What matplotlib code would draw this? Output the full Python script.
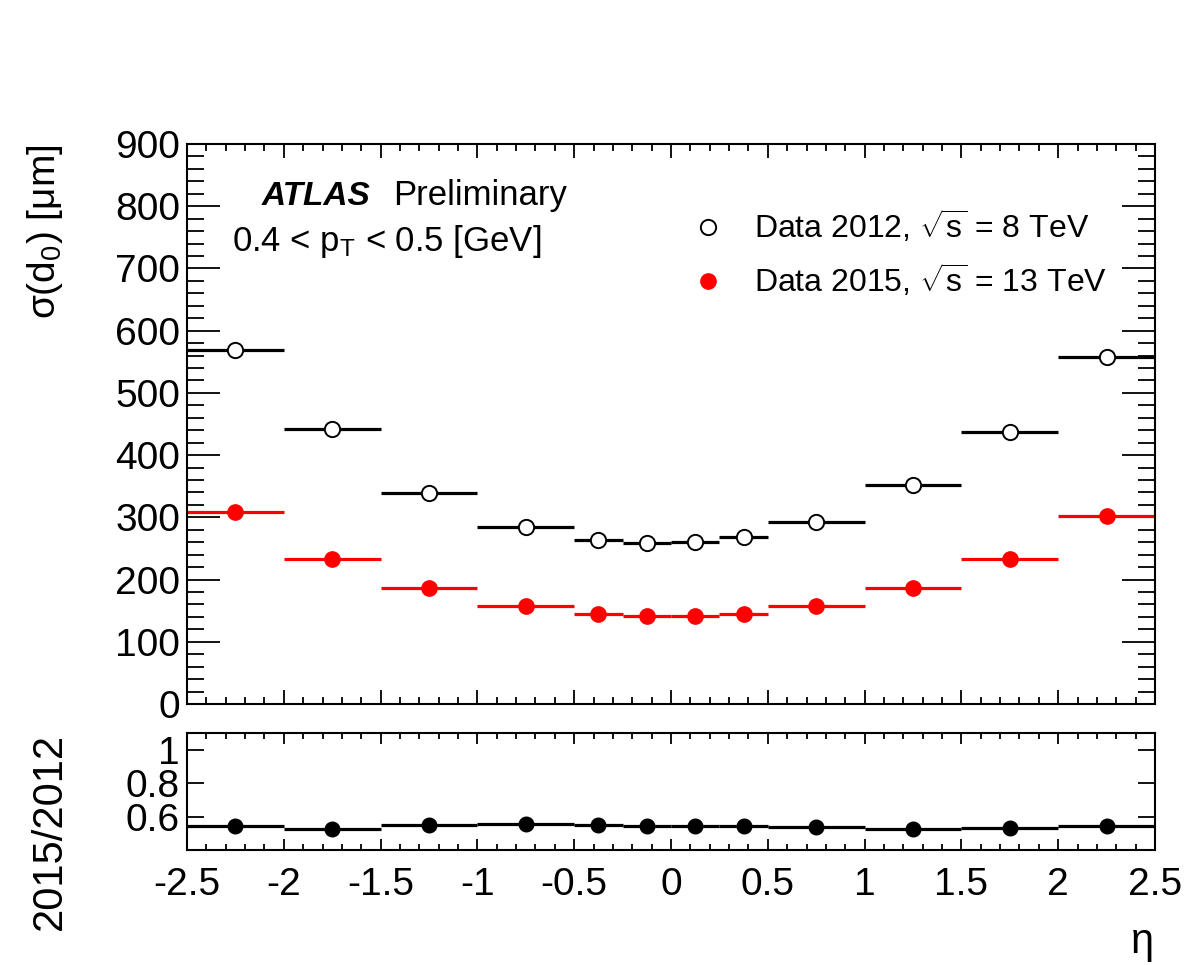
import matplotlib
matplotlib.use("Agg")
import matplotlib.pyplot as plt
import numpy as np
from matplotlib.lines import Line2D
from matplotlib.ticker import MultipleLocator

# font setup (Helvetica-like)
plt.rcParams['font.family'] = ['Liberation Sans', 'DejaVu Sans']
plt.rcParams['mathtext.fontset'] = 'custom'
plt.rcParams['mathtext.rm'] = 'Liberation Sans'
plt.rcParams['mathtext.it'] = 'Liberation Sans:italic'
plt.rcParams['mathtext.bf'] = 'Liberation Sans:bold'

# eta binning
eta_edges = [-2.5, -2.0, -1.5, -1.0, -0.5, -0.25, 0.0, 0.25, 0.5, 1.0, 1.5, 2.0, 2.5]

# d0 resolution [um]
res_2012 = [569, 442, 339, 284, 264, 259, 260, 268, 292, 352, 437, 558]
res_2015 = [309, 233, 186, 157, 145, 141, 141, 145, 157, 186, 233, 302]

edges = np.array(eta_edges)
lo = edges[:-1]
hi = edges[1:]
centers = 0.5 * (lo + hi)
r12 = np.array(res_2012, dtype=float)
r15 = np.array(res_2015, dtype=float)
ratio = r15 / r12

W, H = 1184, 965
fig = plt.figure(figsize=(W / 100, H / 100), dpi=100)

def px(x, y):
    return x / W, 1 - y / H

ax = fig.add_axes([187 / W, 1 - 704 / H, (1155 - 187) / W, (704 - 144) / H])
axr = fig.add_axes([187 / W, 1 - 850 / H, (1155 - 187) / W, (850 - 733) / H])

# upper panel: resolution per bin
ax.hlines(r12, lo, hi, colors='black', lw=2.3, zorder=2)
ax.plot(centers, r12, 'o', ms=11, mfc='white', mec='black', mew=1.4, zorder=3)
ax.hlines(r15, lo, hi, colors='red', lw=2.3, zorder=2)
ax.plot(centers, r15, 'o', ms=11, mfc='red', mec='red', zorder=3)

ax.set_xlim(-2.5, 2.5)
ax.set_ylim(0, 900)
ax.xaxis.set_major_locator(MultipleLocator(0.5))
ax.xaxis.set_minor_locator(MultipleLocator(0.1))
ax.yaxis.set_major_locator(MultipleLocator(100))
ax.yaxis.set_minor_locator(MultipleLocator(20))
ax.tick_params(which='both', direction='in', top=True, right=True, width=1.3)
ax.tick_params(axis='y', which='major', length=24, labelsize=28, pad=5)
ax.tick_params(axis='y', which='minor', length=12)
ax.tick_params(axis='x', which='major', length=10, labelbottom=False)
ax.tick_params(axis='x', which='minor', length=5)

# lower panel: ratio
axr.hlines(ratio, lo, hi, colors='black', lw=2.3, zorder=2)
axr.plot(centers, ratio, 'o', ms=10.5, color='black', zorder=3)
axr.set_xlim(-2.5, 2.5)
axr.set_ylim(0.4, 1.1)
axr.set_yticks([0.6, 0.8, 1.0])
axr.set_yticklabels(['0.6', '0.8', '1'])
axr.xaxis.set_minor_locator(MultipleLocator(0.1))
axr.tick_params(which='both', direction='in', top=True, right=True, width=1.3)
axr.tick_params(axis='y', which='major', length=12, labelsize=28, pad=5)
axr.tick_params(axis='x', which='major', length=8, labelsize=28, pad=12)
axr.tick_params(axis='x', which='minor', length=4)
xt = np.arange(-2.5, 2.51, 0.5)
axr.set_xticks(xt)
axr.set_xticklabels(['%g' % v for v in xt])

for a in (ax, axr):
    for s in a.spines.values():
        s.set_linewidth(1.5)

# axis titles
fig.text(*px(45, 145), r'σ(d$_0$) [μm]', rotation=90, ha='center', va='top', fontsize=28)
fig.text(*px(50, 733), '2015/2012', rotation=90, ha='center', va='top', fontsize=30)
fig.text(*px(1142, 962), 'η', ha='center', va='bottom', fontsize=30)

# labels inside the plot
fig.text(*px(262, 205), 'ATLAS', fontsize=24, fontweight='bold', fontstyle='italic', va='baseline')
fig.text(*px(393, 205), 'Preliminary', fontsize=25, va='baseline')
fig.text(*px(232, 251), r'0.4 < p$_\mathrm{T}$ < 0.5 [GeV]', fontsize=25, va='baseline')

handles = [
    Line2D([], [], ls='none', marker='o', ms=11, mfc='white', mec='black', mew=1.4),
    Line2D([], [], ls='none', marker='o', ms=11, mfc='red', mec='red'),
]
labels = [r'Data 2012, $\sqrt{\mathrm{s}}$ = 8 TeV', r'Data 2015, $\sqrt{\mathrm{s}}$ = 13 TeV']
fig.legend(handles, labels, loc='upper left', bbox_to_anchor=px(668, 192),
           frameon=False, fontsize=23, handletextpad=0.7, labelspacing=0.55,
           borderpad=0, handlelength=1.5)

fig.savefig('out.png', dpi=100)
